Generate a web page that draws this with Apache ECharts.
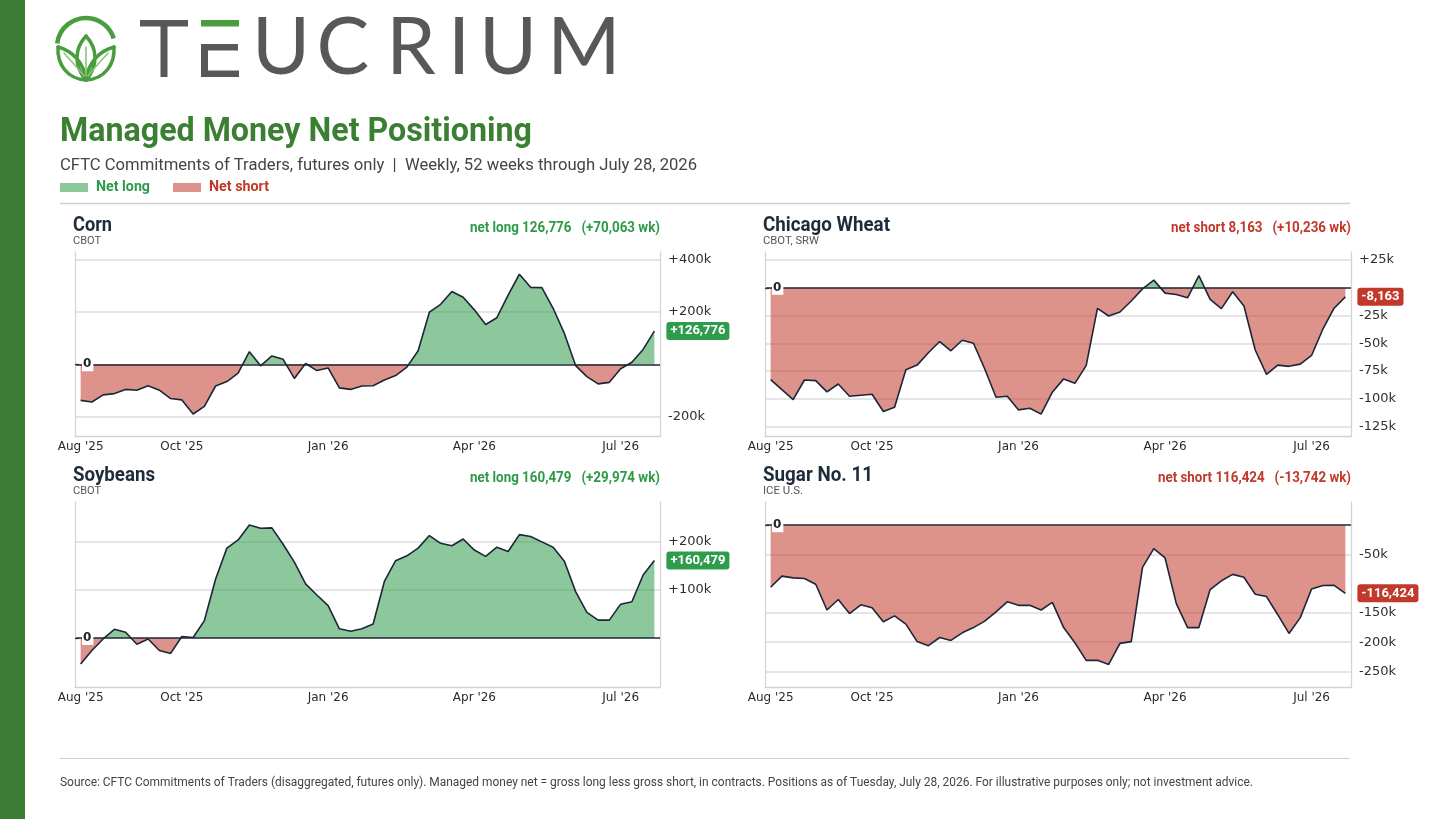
<!DOCTYPE html>
<html>
<head>
<meta charset="utf-8">
<script src="https://cdn.jsdelivr.net/npm/echarts@6/dist/echarts.min.js"></script>
<style>
  html, body { margin: 0; padding: 0; background: #fff; }
  #chart { width: 1456px; height: 819px; }
</style>
</head>
<body>
<div id="chart"></div>
<script>
// ---------- DATA ----------
const weeks = [
  '2025-08-05','2025-08-12','2025-08-19','2025-08-26','2025-09-02','2025-09-09','2025-09-16','2025-09-23','2025-09-30',
  '2025-10-07','2025-10-14','2025-10-21','2025-10-28','2025-11-04','2025-11-11','2025-11-18','2025-11-25',
  '2025-12-02','2025-12-09','2025-12-16','2025-12-23','2025-12-30',
  '2026-01-06','2026-01-13','2026-01-20','2026-01-27','2026-02-03','2026-02-10','2026-02-17','2026-02-24',
  '2026-03-03','2026-03-10','2026-03-17','2026-03-24','2026-03-31',
  '2026-04-07','2026-04-14','2026-04-21','2026-04-28','2026-05-05','2026-05-12','2026-05-19','2026-05-26',
  '2026-06-02','2026-06-09','2026-06-16','2026-06-23','2026-06-30',
  '2026-07-07','2026-07-14','2026-07-21','2026-07-28'
];
const xTickDates  = ['2025-08-05', '2025-10-07', '2026-01-06', '2026-04-07', '2026-07-07'];
const xTickLabels = ["Aug '25", "Oct '25", "Jan '26", "Apr '26", "Jul '26"];

const cornNet = [
  -138000,-144000,-117000,-112000,-96000,-99000,-82000,-99000,-131000,-136000,
  -190000,-161000,-83000,-66000,-34000,48000,-6000,32000,19000,-54000,
  3000,-24000,-14000,-90000,-96000,-83000,-82000,-60000,-43000,-11000,
  52000,199000,229000,278000,256000,208000,152000,178000,264000,344000,
  294000,293000,214000,118000,-5000,-47000,-75000,-69000,-17000,8000,
  56713,126776
];
const wheatNet = [
  -82700,-91600,-100600,-83000,-83600,-93700,-86600,-97600,-96700,-95800,
  -111300,-107500,-73700,-69600,-58500,-48400,-56700,-47200,-49900,-73100,
  -98500,-97600,-109900,-108400,-113700,-94000,-82000,-86000,-70000,-18500,
  -25400,-21800,-11900,-1000,6900,-4800,-6000,-9000,11000,-10400,
  -18800,-3600,-16400,-56000,-78000,-69600,-70700,-68700,-60900,-37300,
  -18399,-8163
];
const soyNet = [
  -54000,-26000,-2000,18000,12000,-13000,-2000,-26000,-32000,3000,
  1000,36000,122000,186000,203000,234000,227000,228000,194000,157000,
  112000,89000,67000,19000,14000,19000,29000,117000,160000,170000,
  186000,212000,196000,191000,205000,182000,169000,188000,179000,214000,
  210000,199000,188000,159000,96000,53000,37000,37000,70000,75000,
  130505,160479
];
const sugarNet = [
  -106000,-87000,-90000,-91000,-101000,-145000,-127000,-151000,-136000,-141000,
  -165000,-155000,-169000,-199000,-206000,-192000,-197000,-184000,-175000,-164000,
  -148000,-131000,-137000,-137000,-145000,-132000,-175000,-201000,-231000,-231000,
  -238000,-202000,-199000,-72000,-40000,-56000,-134000,-175000,-175000,-110000,
  -95000,-84000,-89000,-118000,-122000,-153000,-185000,-158000,-109000,-103000,
  -102682,-116424
];

const cornTicks  = [-200000, 200000, 400000];
const wheatTicks = [25000, -25000, -50000, -75000, -100000, -125000];
const soyTicks   = [100000, 200000];
const sugarTicks = [-50000, -150000, -200000, -250000];

// ---------- STYLE ----------
const GREEN = '#2f9b4c', RED = '#c1392b';
const TXT_GREEN = '#2e9a48', TXT_RED = '#c0392b';
const NAVY = '#1c2636';
const LOGO_GREEN = '#4a9d3f', LOGO_GRAY = '#58585a';

const panels = [
  { name: 'Corn', exch: 'CBOT', data: cornNet, ticks: cornTicks, min: -274000, max: 429000,
    left: 75, top: 252, width: 585, height: 184, tx: 73, ty: 226, tw: 39, sw: 28, stw: 190 },
  { name: 'Chicago Wheat', exch: 'CBOT, SRW', data: wheatNet, ticks: wheatTicks, min: -133400, max: 32200,
    left: 765, top: 252, width: 586, height: 184, tx: 763, ty: 226, tw: 127, sw: 56, stw: 180 },
  { name: 'Soybeans', exch: 'CBOT', data: soyNet, ticks: soyTicks, min: -101500, max: 281500,
    left: 75, top: 502, width: 585, height: 185, tx: 73, ty: 476, tw: 82, sw: 28, stw: 190 },
  { name: 'Sugar No. 11', exch: 'ICE U.S.', data: sugarNet, ticks: sugarTicks, min: -276600, max: 39700,
    left: 765, top: 502, width: 586, height: 185, tx: 763, ty: 476, tw: 110, sw: 40, stw: 193 }
];

// ---------- HELPERS ----------
const mctx = document.createElement('canvas').getContext('2d');
function fitScale(text, font, target) {
  mctx.font = font;
  const w = mctx.measureText(text).width;
  return w > 0 ? target / w : 1;
}
function txt(text, x, y, font, fill, target, align, valign) {
  return {
    type: 'text', x: x, y: y,
    scaleX: target ? fitScale(text, font, target) : 1,
    silent: true, z: 10,
    style: { text: text, font: font, fill: fill, align: align || 'left', verticalAlign: valign || 'middle' }
  };
}
function fmtInt(v) { return Math.abs(v).toLocaleString('en-US'); }
function fmtK(v) {
  if (v === 0) return '0';
  return (v > 0 ? '+' : '-') + Math.round(Math.abs(v) / 1000) + 'k';
}
function bez(x1, y1, c1x, c1y, c2x, c2y, x2, y2, w, col) {
  return { type: 'bezierCurve', silent: true,
    shape: { x1: x1, y1: y1, x2: x2, y2: y2, cpx1: c1x, cpy1: c1y, cpx2: c2x, cpy2: c2y },
    style: { stroke: col, lineWidth: w, fill: null, lineCap: 'round' } };
}
// vertical fill split exactly at zero (relative to the area polygon's bounding box)
function signGradient(data) {
  const hi = Math.max(0, Math.max.apply(null, data));
  const lo = Math.min(0, Math.min.apply(null, data));
  const f = hi - lo > 0 ? hi / (hi - lo) : 0;
  return {
    type: 'linear', x: 0, y: 0, x2: 0, y2: 1,
    colorStops: [
      { offset: 0, color: GREEN }, { offset: f, color: GREEN },
      { offset: f, color: RED }, { offset: 1, color: RED }
    ]
  };
}

// ---------- BUILD ----------
const grid = [], xAxis = [], yAxis = [], series = [], graphic = [];

panels.forEach((p, g) => {
  const last = p.data[p.data.length - 1];
  const prev = p.data[p.data.length - 2];
  const chg = last - prev;
  const pos = last >= 0;

  grid.push({ left: p.left, top: p.top, width: p.width, height: p.height, containLabel: false });

  xAxis.push({
    type: 'category', gridIndex: g, data: weeks, boundaryGap: true,
    axisLine: { onZero: false, lineStyle: { color: '#d2d2d2', width: 1.3 } },
    axisTick: { show: false },
    splitLine: { show: false },
    axisLabel: {
      interval: (i, v) => xTickDates.indexOf(v) >= 0,
      formatter: v => { const k = xTickDates.indexOf(v); return k >= 0 ? xTickLabels[k] : ''; },
      fontFamily: 'DejaVu Sans', fontSize: 12, color: '#2a2a2a', margin: 5
    }
  });

  yAxis.push({
    type: 'value', gridIndex: g, position: 'right', min: p.min, max: p.max,
    axisLine: { show: true, lineStyle: { color: '#d4d4d4', width: 1.3 } },
    axisTick: { show: false, customValues: p.ticks },
    axisLabel: { customValues: p.ticks, formatter: fmtK, fontFamily: 'DejaVu Sans', fontSize: 13, color: '#2f2f2f', margin: 8 },
    splitLine: { show: true, lineStyle: { color: '#dddddd', width: 1.5 } }
  });
  yAxis.push({
    type: 'value', gridIndex: g, position: 'left', min: p.min, max: p.max, z: 10,
    axisLine: { show: true, lineStyle: { color: '#d4d4d4', width: 1.3 } },
    axisTick: { show: true, inside: true, length: 4, customValues: [0], lineStyle: { color: '#333', width: 1.3 } },
    axisLabel: {
      show: true, inside: true, customValues: [0], formatter: () => '0',
      fontFamily: 'DejaVu Sans', fontWeight: 'bold', fontSize: 12, color: '#222',
      backgroundColor: '#ffffff', padding: [1, 2, 1, 1], margin: 7
    },
    splitLine: { show: false }
  });

  // area, coloured by sign
  series.push({
    type: 'line', xAxisIndex: g, yAxisIndex: 2 * g, data: p.data,
    symbol: 'none', silent: true, z: 2,
    lineStyle: { width: 0, opacity: 0 },
    areaStyle: { color: signGradient(p.data), opacity: 0.55, origin: 0 }
  });

  // line + zero line + badge
  series.push({
    type: 'line', xAxisIndex: g, yAxisIndex: 2 * g, data: p.data,
    symbol: 'none', z: 3, silent: true,
    lineStyle: { color: NAVY, width: 1.6 },
    itemStyle: { color: NAVY },
    markLine: {
      silent: true, symbol: 'none', label: { show: false },
      lineStyle: { color: NAVY, width: 1.6, type: 'solid' },
      data: [{ yAxis: 0 }]
    },
    markPoint: {
      symbol: 'rect', symbolSize: 0, silent: true,
      data: [{ coord: [weeks[weeks.length - 1], last], value: last }],
      label: {
        show: true, position: 'right', distance: 12,
        formatter: () => (pos ? '+' : '-') + fmtInt(last),
        backgroundColor: pos ? GREEN : RED, color: '#fff',
        fontFamily: 'Roboto', fontWeight: 'bold', fontSize: 13,
        padding: [3, 4, 2, 4], borderRadius: 3
      }
    }
  });

  graphic.push(txt(p.name, p.tx, p.ty, 'bold 21px Roboto', '#1e2b3a', p.tw));
  graphic.push(txt(p.exch, p.tx, p.ty + 15, '11px Roboto', '#555555', p.sw));
  const status = (pos ? 'net long ' : 'net short ') + fmtInt(last) + '   (' + (chg >= 0 ? '+' : '-') + fmtInt(chg) + ' wk)';
  graphic.push(txt(status, p.left + p.width, p.ty + 2, 'bold 14px Roboto', pos ? TXT_GREEN : TXT_RED, p.stw, 'right'));
});

// header / footer
graphic.push({ type: 'rect', shape: { x: 0, y: 0, width: 25, height: 819 }, style: { fill: '#3c7d35' }, silent: true });
graphic.push(txt('Managed Money Net Positioning', 60, 132, 'bold 34px Roboto', '#3b7f32', 472));
graphic.push(txt('CFTC Commitments of Traders, futures only  |  Weekly, 52 weeks through July 28, 2026', 60, 166, '16px Roboto', '#444444', 637));
graphic.push({ type: 'rect', shape: { x: 60, y: 183, width: 28, height: 9 }, style: { fill: GREEN, opacity: 0.55 }, silent: true });
graphic.push(txt('Net long', 96, 187, 'bold 14px Roboto', TXT_GREEN, 54));
graphic.push({ type: 'rect', shape: { x: 173, y: 183, width: 28, height: 9 }, style: { fill: RED, opacity: 0.55 }, silent: true });
graphic.push(txt('Net short', 209, 187, 'bold 14px Roboto', TXT_RED, 60));
graphic.push({ type: 'line', shape: { x1: 60, y1: 203.5, x2: 1350, y2: 203.5 }, style: { stroke: '#cfcfcf', lineWidth: 1.5 }, silent: true });
graphic.push({ type: 'line', shape: { x1: 60, y1: 758.5, x2: 1350, y2: 758.5 }, style: { stroke: '#cfcfcf', lineWidth: 1.2 }, silent: true });
graphic.push(txt('Source: CFTC Commitments of Traders (disaggregated, futures only). Managed money net = gross long less gross short, in contracts. Positions as of Tuesday, July 28, 2026. For illustrative purposes only; not investment advice.',
  60, 783, '12px Roboto', '#444444', 1193));

// logo icon
graphic.push({ type: 'arc', silent: true,
  shape: { cx: 86, cy: 47, r: 29, startAngle: 187 * Math.PI / 180, endAngle: 343 * Math.PI / 180, clockwise: true },
  style: { stroke: LOGO_GREEN, lineWidth: 4.5, fill: null } });
graphic.push(bez(86, 80, 74, 66, 74, 49, 86, 36, 3.5, LOGO_GREEN));
graphic.push(bez(86, 36, 98, 49, 98, 66, 86, 80, 3.5, LOGO_GREEN));
graphic.push(bez(86, 80, 67, 79, 57, 64, 58, 47, 3.5, LOGO_GREEN));
graphic.push(bez(58, 47, 73, 51, 84, 63, 86, 80, 3.5, LOGO_GREEN));
graphic.push(bez(86, 80, 105, 79, 115, 64, 114, 47, 3.5, LOGO_GREEN));
graphic.push(bez(114, 47, 99, 51, 88, 63, 86, 80, 3.5, LOGO_GREEN));
graphic.push(bez(86, 76, 86, 66, 86, 56, 86, 47, 1.6, '#8cc47f'));
graphic.push(bez(84, 76, 78, 68, 70, 60, 64, 53, 1.6, '#8cc47f'));
graphic.push(bez(88, 76, 94, 68, 102, 60, 108, 53, 1.6, '#8cc47f'));
// logo wordmark
graphic.push({ type: 'rect', shape: { x: 140, y: 20, width: 48, height: 6.5 }, style: { fill: LOGO_GRAY }, silent: true });
graphic.push({ type: 'rect', shape: { x: 160.5, y: 20, width: 7, height: 57 }, style: { fill: LOGO_GRAY }, silent: true });
graphic.push({ type: 'rect', shape: { x: 201, y: 20, width: 38, height: 6.5 }, style: { fill: LOGO_GREEN }, silent: true });
graphic.push({ type: 'rect', shape: { x: 201, y: 44, width: 7, height: 33 }, style: { fill: LOGO_GRAY }, silent: true });
graphic.push({ type: 'rect', shape: { x: 201, y: 44, width: 37, height: 6.5 }, style: { fill: LOGO_GRAY }, silent: true });
graphic.push({ type: 'rect', shape: { x: 201, y: 70.5, width: 38, height: 6.5 }, style: { fill: LOGO_GRAY }, silent: true });
[['U', 281], ['C', 343], ['R', 411], ['I', 459], ['U', 508], ['M', 584]].forEach(([ch, cx]) => {
  graphic.push({ type: 'text', x: cx, y: 49, silent: true,
    style: { text: ch, font: 'normal 79px Lato', fill: LOGO_GRAY, align: 'center', verticalAlign: 'middle' } });
});

const chart = echarts.init(document.getElementById('chart'), null, { renderer: 'canvas' });
chart.setOption({
  animation: false,
  backgroundColor: '#ffffff',
  grid, xAxis, yAxis, series, graphic
});
</script>
</body>
</html>
